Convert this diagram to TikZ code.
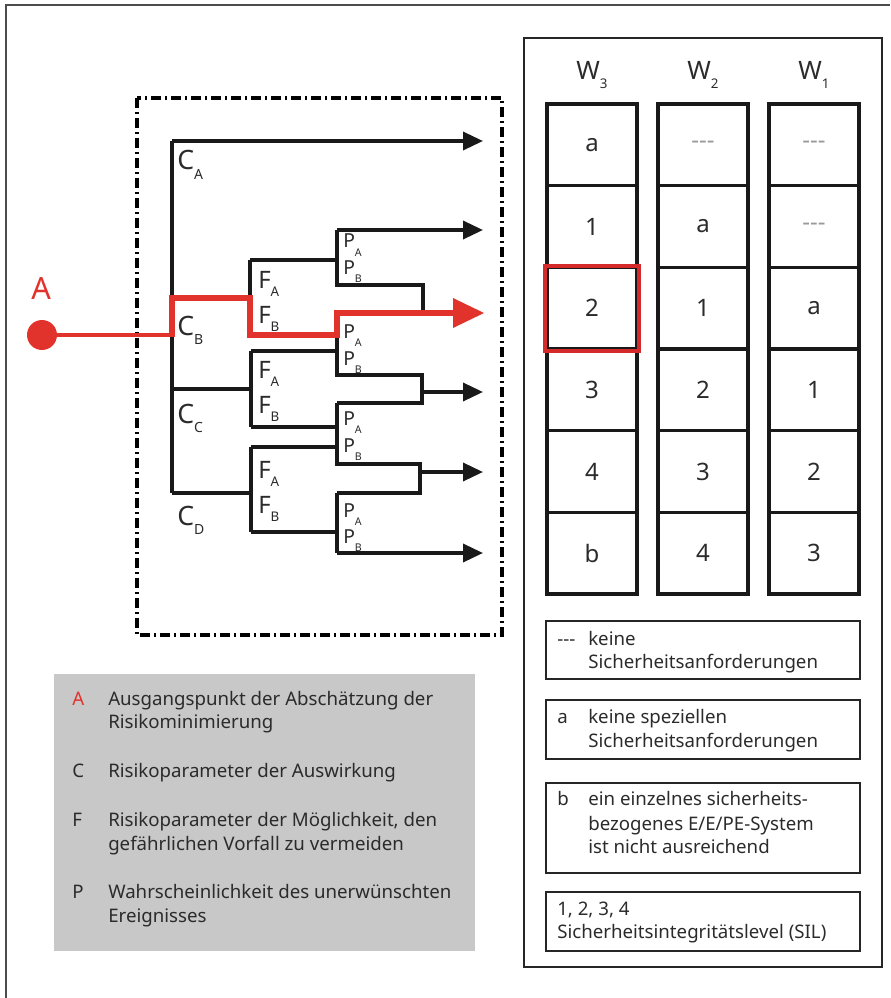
\documentclass[tikz,border=0pt]{standalone}
\usepackage{fontspec}
\setmainfont{Noto Sans}
\usetikzlibrary{arrows.meta}
\definecolor{rred}{HTML}{E2322C}
\definecolor{boxred}{HTML}{D42A2A}
\definecolor{lgray}{HTML}{C8C8C8}
\definecolor{txt}{HTML}{2B2B2B}
\definecolor{dashgray}{HTML}{9A9A9A}
\newcommand{\Sub}[3]{\raisebox{-#1}{\fontsize{#2}{#2}\selectfont #3}}
\newcommand{\Cl}[1]{{\fontsize{20}{20}\selectfont C}\Sub{7pt}{10.5}{#1}}
\newcommand{\Fl}[1]{{\fontsize{18}{18}\selectfont F}\Sub{6.5pt}{10}{#1}}
\newcommand{\Pl}[1]{{\fontsize{14.5}{14.5}\selectfont P}\Sub{6pt}{8}{#1}}
\newcommand{\Wl}[1]{{\fontsize{19}{19}\selectfont W}\Sub{6.5pt}{10}{#1}}
\newcommand{\thr}{{-}{-}{-}}
\begin{document}
\begin{tikzpicture}[x=0.75pt,y=-0.75pt,line join=miter,
  tl/.style={line width=2.6pt,draw=black!90},
  arr/.style={tl,-{Triangle[length=15pt,width=13.5pt]}},
  redl/.style={line width=5pt,draw=rred},
  lbl/.style={inner sep=0pt,anchor=base west,text=txt},
  cell/.style={draw=black!90,line width=2.6pt,minimum width=67.5pt,minimum height=61.25pt,inner sep=0pt,text=txt,font=\fontsize{18}{18}\selectfont},
  lgbox/.style={draw=black!85,line width=2.2pt},
  lgtxt/.style={inner sep=0pt,anchor=base west,text=txt,font=\fontsize{14}{16}\selectfont}]
\useasboundingbox (0,0) rectangle (890,998);
% outer frame (top and left)
\draw[line width=1.5pt,draw=black!70] (6,998) -- (6,5) -- (890,5);
% dash-dot frame
\draw[line width=2.6pt,dash pattern=on 7.5pt off 3pt on 1.5pt off 3pt] (137,98) rectangle (502,635);

% coordinates
\coordinate (t0) at (172,141);
\coordinate (tB) at (172,298);
\coordinate (tC) at (172,389);
\coordinate (tD) at (172,493);
\coordinate (o1) at (483,141);
\coordinate (o2) at (483,230);
\coordinate (o3) at (483,313);
\coordinate (o4) at (483,392);
\coordinate (o5) at (483,472);
\coordinate (o6) at (483,553);

% C trunk
\draw[tl] (tD) -- (t0);
\draw[arr] (t0) -- (o1);
% C_B branch
\draw[tl] (tB) -- (250,298);
\draw[tl] (250,260) -- (250,335);
\draw[tl] (250,260) -- (337,260);
% P1
\draw[tl] (337,230) -- (337,285) -- (423,285) -- (423,313);
\draw[arr] (337,230) -- (o2);
% P2
\draw[tl] (337,313) -- (423,313);
\draw[tl] (337,313) -- (337,375) -- (422,375) -- (422,403) -- (337,403);
\draw[arr] (422,392) -- (o4);
% C_C branch
\draw[tl] (tC) -- (251,389);
\draw[tl] (251,351) -- (251,427);
\draw[tl] (251,351) -- (337,351);
\draw[tl] (251,427) -- (337,427);
% P3
\draw[tl] (337,403) -- (337,464) -- (420,464) -- (420,493) -- (337,493);
\draw[arr] (420,472) -- (o5);
% C_D branch
\draw[tl] (tD) -- (251,493);
\draw[tl] (251,447) -- (251,532);
\draw[tl] (251,447) -- (337,447);
\draw[tl] (251,532) -- (337,532);
% P4
\draw[tl] (337,493) -- (337,553);
\draw[arr] (337,553) -- (o6);

% red path
\coordinate (Astart) at (42,335);
\fill[rred] (Astart) circle (15);
\draw[line width=3.4pt,draw=rred] (Astart) -- (172,335);
\draw[redl] (172,337) -- (172,298) -- (250,298) -- (250,335) -- (337,335) -- (337,313) -- (455,313);
\fill[rred] (453,298) -- (484,313) -- (453,328) -- cycle;
\node[inner sep=0pt,anchor=base west,text=rred,font=\fontsize{23}{23}\selectfont] (lA) at (31,300) {A};

% tree labels
\node[lbl] (lCA) at (177,170) {\Cl{A}};
\node[lbl] (lCB) at (177,335) {\Cl{B}};
\node[lbl] (lCC) at (177,423) {\Cl{C}};
\node[lbl] (lCD) at (177,525) {\Cl{D}};
\node[lbl] (lF1) at (258,288) {\Fl{A}};
\node[lbl] (lF2) at (258,323) {\Fl{B}};
\node[lbl] (lF3) at (258,378) {\Fl{A}};
\node[lbl] (lF4) at (258,413) {\Fl{B}};
\node[lbl] (lF5) at (258,478) {\Fl{A}};
\node[lbl] (lF6) at (258,513) {\Fl{B}};
\node[lbl] (lP1) at (343,248) {\Pl{A}};
\node[lbl] (lP2) at (343,275) {\Pl{B}};
\node[lbl] (lP3) at (343,338) {\Pl{A}};
\node[lbl] (lP4) at (343,365) {\Pl{B}};
\node[lbl] (lP5) at (343,425) {\Pl{A}};
\node[lbl] (lP6) at (343,452) {\Pl{B}};
\node[lbl] (lP7) at (343,517) {\Pl{A}};
\node[lbl] (lP8) at (343,543) {\Pl{B}};

% left legend
\fill[lgray] (54,674) rectangle (475,951);
\node[lgtxt,text=rred] (gA) at (72,705) {A};
\node[lgtxt] (gAt) at (108,705) {Ausgangspunkt der Abschätzung der};
\node[lgtxt] (gAt2) at (108,728) {Risikominimierung};
\node[lgtxt] (gC) at (72,777) {C};
\node[lgtxt] (gCt) at (108,777) {Risikoparameter der Auswirkung};
\node[lgtxt] (gF) at (72,826) {F};
\node[lgtxt] (gFt) at (108,826) {Risikoparameter der Möglichkeit, den};
\node[lgtxt] (gFt2) at (108,850) {gefährlichen Vorfall zu vermeiden};
\node[lgtxt] (gP) at (72,898) {P};
\node[lgtxt] (gPt) at (108,898) {Wahrscheinlichkeit des unerwünschten};
\node[lgtxt] (gPt2) at (108,922) {Ereignisses};

% right panel
\draw[line width=2.2pt,draw=black!85] (524,38) rectangle (882,967);
\node[lbl,anchor=base] (W3) at (592,80) {\Wl{3}};
\node[lbl,anchor=base] (W2) at (703,80) {\Wl{2}};
\node[lbl,anchor=base] (W1) at (814,80) {\Wl{1}};
% column W3
\node[cell] (a1) at (592,144.8) {a};
\node[cell] (a2) at (592,226.5) {1};
\node[cell] (a3) at (592,308.2) {2};
\node[cell] (a4) at (592,389.8) {3};
\node[cell] (a5) at (592,471.5) {4};
\node[cell] (a6) at (592,553.2) {b};
% column W2
\node[cell,text=dashgray] (b1) at (703,144.8) {\thr};
\node[cell] (b2) at (703,226.5) {a};
\node[cell] (b3) at (703,308.2) {1};
\node[cell] (b4) at (703,389.8) {2};
\node[cell] (b5) at (703,471.5) {3};
\node[cell] (b6) at (703,553.2) {4};
% column W1
\node[cell,text=dashgray] (c1) at (814,144.8) {\thr};
\node[cell,text=dashgray] (c2) at (814,226.5) {\thr};
\node[cell] (c3) at (814,308.2) {a};
\node[cell] (c4) at (814,389.8) {1};
\node[cell] (c5) at (814,471.5) {2};
\node[cell] (c6) at (814,553.2) {3};
\draw[draw=boxred,line width=3pt] (a3.north west) rectangle (a3.south east);

% right legend boxes
\draw[lgbox] (546,621) rectangle (860,679);
\node[lgtxt] (k1) at (557,645) {\thr};
\node[lgtxt] (k1a) at (588,645) {keine};
\node[lgtxt] (k1b) at (588,668) {Sicherheitsanforderungen};
\draw[lgbox] (546,700) rectangle (860,759);
\node[lgtxt] (k2) at (557,723) {a};
\node[lgtxt] (k2a) at (588,723) {keine speziellen};
\node[lgtxt] (k2b) at (588,747) {Sicherheitsanforderungen};
\draw[lgbox] (546,783) rectangle (860,873);
\node[lgtxt] (k3) at (557,805) {b};
\node[lgtxt] (k3a) at (588,805) {ein einzelnes sicherheits-};
\node[lgtxt] (k3b) at (588,830) {bezogenes E/E/PE-System};
\node[lgtxt] (k3c) at (588,853) {ist nicht ausreichend};
\draw[lgbox] (546,892) rectangle (860,951);
\node[lgtxt] (k4) at (557,915) {1, 2, 3, 4};
\node[lgtxt] (k4a) at (557,938) {Sicherheitsintegritätslevel (SIL)};
\end{tikzpicture}
\end{document}
